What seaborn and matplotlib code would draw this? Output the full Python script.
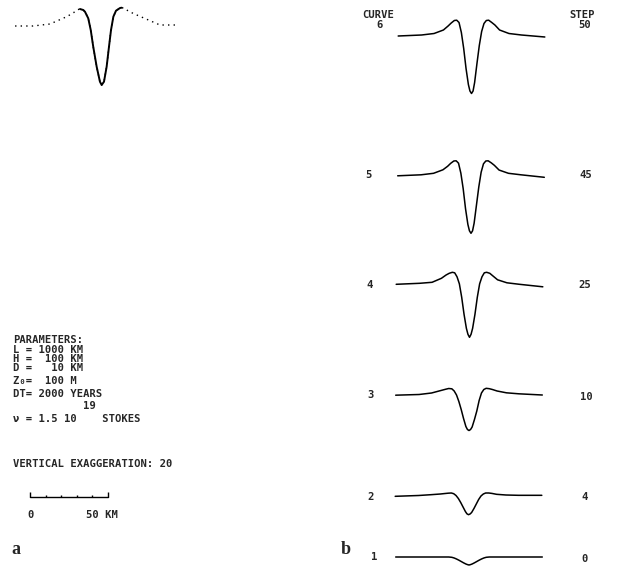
import numpy as np
import pandas as pd
import matplotlib
matplotlib.use("Agg")
import matplotlib.pyplot as plt
import seaborn as sns

# ---- datos ----
# distancia a lo largo del perfil (km), panel b
x_km = [-47, -32, -24, -18, -15, -13, -11, -9.5, -8, -6.5, -5, -3.5, -2, -1, 0,
        1, 2, 3.5, 5, 6.5, 8, 9.5, 11, 13, 15, 18, 24, 32, 47]

# elevacion relativa (m) de cada curva del panel b
curve1 = [0, 0, 0, 0, 0, 0, -10, -32, -64, -102, -144, -186, -224, -243, -256,
          -243, -224, -186, -144, -102, -64, -32, -10, 0, 0, 0, 0, 0, 0]
curve2 = [-10, 16, 42, 64, 80, 90, 96, 74, 16, -80, -208, -352, -496, -570, -598,
          -576, -528, -400, -256, -112, 0, 64, 96, 96, 83, 54, 32, 22, 22]
curve3 = [10, 32, 80, 160, 200, 224, 214, 144, 16, -192, -448, -736, -992, -1088, -1120,
          -1088, -1008, -768, -496, -160, 80, 192, 230, 218, 192, 144, 86, 54, 16]
curve4 = [32, 64, 96, 224, 330, 384, 416, 400, 272, 48, -384, -928, -1376, -1568, -1664,
          -1568, -1376, -928, -384, 48, 272, 400, 416, 384, 300, 176, 80, 32, -48]
curve5 = [16, 48, 96, 208, 320, 416, 490, 496, 420, 100, -400, -1040, -1540, -1744, -1824,
          -1744, -1500, -920, -340, 130, 400, 490, 496, 430, 350, 200, 96, 48, -32]
curve6 = [16, 48, 96, 208, 336, 432, 512, 522, 448, 128, -384, -1024, -1536, -1744, -1824,
          -1744, -1472, -864, -288, 160, 416, 512, 522, 448, 368, 208, 96, 48, -16]

curves = [curve1, curve2, curve3, curve4, curve5, curve6]
curve_ids = ["1", "2", "3", "4", "5", "6"]
steps = ["0", "4", "10", "25", "45", "50"]

# perfil del panel a (km, m); tramo continuo entre los dos picos
a_x = [-55.4, -43.9, -33, -22.3, -17.9, -15.9, -13.8, -11.7, -10.6, -8.5, -6.9,
       -5.3, -3.1, -1, 0.1, 1.6, 3.3, 4.8, 6.1, 7.6, 9.3, 11.9, 12.9, 15.1,
       16.7, 20.4, 31.1, 37.5, 47.1]
a_z = [-16, -16, 48, 282, 410, 496, 528, 496, 442, 230, -144,
       -678, -1318, -1798, -1904, -1798, -1318, -678, -144, 282, 474, 560, 570, 550,
       480, 384, 154, 16, 16]
a_solid = (-13.8, 12.9)

params = ["PARAMETERS:", "L = 1000 KM", "H =  100 KM", "D =   10 KM",
          "Z\u2080=  100 M", "DT= 2000 YEARS"]
nu_line = "\u03bd = 1.5 10    STOKES"
nu_exp = "19"
exag = "VERTICAL EXAGGERATION: 20"
scale_km = [0, 10, 20, 30, 40, 50]

# ---- maquetacion (pixeles) ----
W, H = 617, 566
KM_PX = 1.56      # px por km
M_PX = 32.0       # m por px (exageracion vertical 20)
centers = [469, 468.5, 469, 469.5, 471, 471.5]
baselines = [557, 496, 395.5, 285.3, 176.3, 36.5]

sns.set_theme(style="white")
plt.rcParams["font.family"] = ["DejaVu Sans Mono", "DejaVu Sans"]
FS = 7.6
ADV = 0.602 * FS * 100 / 72

fig = plt.figure(figsize=(W / 100, H / 100), dpi=100)


def add_ax(cx, base, xmin, xmax, zmin, zmax):
    left = cx + xmin * KM_PX
    top = base - zmax / M_PX
    w = (xmax - xmin) * KM_PX
    h = (zmax - zmin) / M_PX
    ax = fig.add_axes([left / W, 1 - (top + h) / H, w / W, h / H])
    ax.set_xlim(xmin, xmax)
    ax.set_ylim(zmin, zmax)
    ax.set_axis_off()
    return ax


def txt(x, y, s, **kw):
    kw.setdefault("fontsize", FS)
    kw.setdefault("fontweight", "bold")
    kw.setdefault("va", "center")
    fig.text(x / W, 1 - y / H, s, **kw)


# panel b
for z, cx, base in zip(curves, centers, baselines):
    ax = add_ax(cx, base, -48, 48, -2000, 700)
    df = pd.DataFrame({"x": x_km, "z": z})
    sns.lineplot(data=df, x="x", y="z", ax=ax, color="black", lw=1.1,
                 estimator=None, sort=False)

label_pos = [(374, 557), (371, 497), (371, 395), (370, 285), (368, 175), (380, 25)]
step_pos = [(585, 559), (585, 497), (586, 397), (585, 285), (586, 175), (585, 25)]
for (lx, ly), (sx, sy), cid, st in zip(label_pos, step_pos, curve_ids, steps):
    txt(lx, ly, cid, ha="center")
    txt(sx, sy, st, ha="center")
txt(378, 15, "CURVE", ha="center")
txt(582, 15, "STEP", ha="center")

# panel a
ax_a = add_ax(101.5, 25.5, -60, 50, -2000, 700)
dfa = pd.DataFrame({"x": a_x, "z": a_z})
sns.lineplot(data=dfa, x="x", y="z", ax=ax_a, color="black", lw=1.0,
             estimator=None, sort=False, linestyle=(0, (1, 3)))
mid = dfa[(dfa.x >= a_solid[0]) & (dfa.x <= a_solid[1])]
sns.lineplot(data=mid, x="x", y="z", ax=ax_a, color="black", lw=1.4,
             estimator=None, sort=False)

# texto de parametros
rows = [340, 350, 359, 368, 381, 394]
for s, y in zip(params, rows):
    txt(13, y, s, ha="left")
txt(13 + 11 * ADV, 406, nu_exp, ha="left")
txt(13, 419, nu_line, ha="left")
txt(13, 464, exag, ha="left")

# barra de escala
ax_s = add_ax(30, 497, -2, 52, -300, 300)
ax_s.plot([scale_km[0], scale_km[-1]], [0, 0], color="black", lw=1.0)
ax_s.vlines([scale_km[0], scale_km[-1]], 0, 160, color="black", lw=1.0)
ax_s.vlines(scale_km[1:-1], 0, 60, color="black", lw=1.0)
txt(31, 515, "0", ha="center")
txt(86, 515, "50 KM", ha="left")

# letras de panel
fig.text(16 / W, 1 - 550 / H, "a", fontsize=13, fontweight="bold",
         family="Liberation Serif", va="center", ha="center")
fig.text(346 / W, 1 - 550 / H, "b", fontsize=13, fontweight="bold",
         family="Liberation Serif", va="center", ha="center")

fig.savefig("out.png", dpi=100, facecolor="white")
